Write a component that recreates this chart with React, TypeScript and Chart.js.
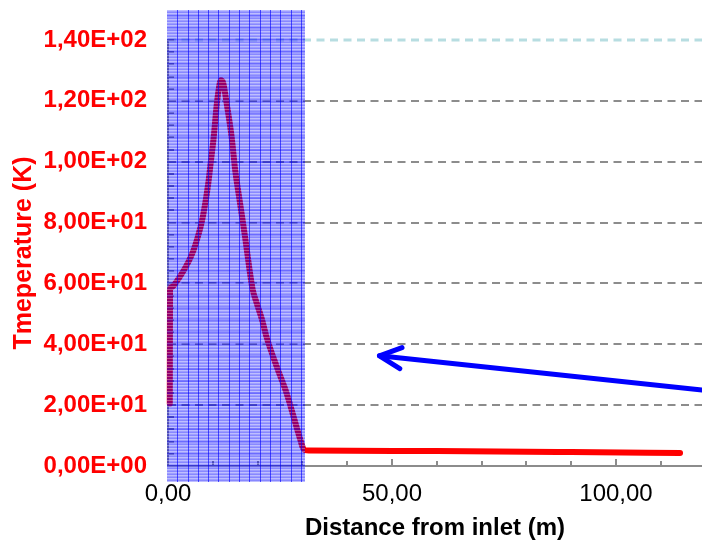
import React, { useEffect, useRef } from "react";
import { Chart, registerables } from "chart.js";

Chart.register(...registerables);

// Temperature profile (distance in m, temperature in K)
const distance = [
  0.4, 0.45, 0.8, 2.0, 3.4, 4.6, 5.7, 6.6, 7.5, 8.3, 9.0, 9.6, 10.2, 10.9, 11.4, 11.8,
  12.3, 13.1, 14.2, 15.0, 16.1, 17.2, 18.2, 18.9, 19.8, 21.0, 22.0, 24.3, 26.5, 28.7,
  29.6, 30.1, 30.6, 31.5, 60, 90, 114.3,
];
const temperature = [
  20.5, 58.0, 58.8, 60.8, 64.0, 67.2, 70.9, 75.0, 80.0, 86.2, 93.0, 100.5, 108.0, 119.0, 124.5, 126.8,
  126.0, 119.1, 108.2, 97.2, 86.2, 75.3, 64.5, 58.0, 53.5, 48.0, 42.4, 32.5, 23.8, 12.8,
  8.3, 6.0, 5.2, 5.1, 4.9, 4.6, 4.3,
];

// Arrow (tip first, then tail)
const arrowX = [47.2, 119.2];
const arrowY = [36.2, 25.0];

// Shaded band (x range and y range in data units)
const bandX = [-0.3, 30.6];
const bandY = [-5.1, 150];

// Axes
const xMin = 0;
const xMax = 119.2;
const xLabelStep = 50;
const xMinorStep = 10;
const yMin = 0;
const yMax = 140;
const yStep = 20;
const yMinorStep = 4;

const FONT = "'Liberation Sans', Arial, Helvetica, sans-serif";

function fmtY(v: number): string {
  if (v === 0) return "0,00E+00";
  const e = Math.floor(Math.log10(Math.abs(v)) + 1e-9);
  const m = v / Math.pow(10, e);
  return m.toFixed(2).replace(".", ",") + "E" + (e >= 0 ? "+" : "-") + String(Math.abs(e)).padStart(2, "0");
}
function fmtX(v: number): string {
  return v.toFixed(2).replace(".", ",");
}

const decorPlugin = {
  id: "decor",
  beforeDatasetsDraw(chart: any) {
    const { ctx, chartArea, scales } = chart;
    const x = scales.x;
    const y = scales.y;
    ctx.save();
    for (let v = yMin + yStep; v <= yMax + 1e-9; v += yStep) {
      const py = Math.round(y.getPixelForValue(v));
      ctx.beginPath();
      ctx.setLineDash([8, 5.5]);
      if (v === yMax) {
        ctx.strokeStyle = "rgba(170,215,220,0.85)";
        ctx.lineWidth = 3;
      } else {
        ctx.strokeStyle = "#8c8c8c";
        ctx.lineWidth = 2;
      }
      ctx.moveTo(chartArea.left, py);
      ctx.lineTo(chartArea.right, py);
      ctx.stroke();
    }
    ctx.setLineDash([]);
    ctx.strokeStyle = "#8c8c8c";
    ctx.lineWidth = 2;
    for (let v = xMin; v <= xMax + 1e-9; v += xMinorStep) {
      const px = Math.round(x.getPixelForValue(v));
      const len = v % xLabelStep === 0 ? 7 : 5;
      ctx.beginPath();
      ctx.moveTo(px, chartArea.bottom);
      ctx.lineTo(px, chartArea.bottom - len);
      ctx.stroke();
    }
    for (let v = yMin; v <= yMax + 1e-9; v += yMinorStep) {
      const py = Math.round(y.getPixelForValue(v));
      ctx.beginPath();
      ctx.moveTo(chartArea.left, py);
      ctx.lineTo(chartArea.left + 6, py);
      ctx.stroke();
    }
    ctx.restore();
  },
  afterDatasetsDraw(chart: any) {
    const { ctx, scales } = chart;
    const x = scales.x;
    const y = scales.y;
    ctx.save();
    const x0 = Math.round(x.getPixelForValue(bandX[0]));
    const x1 = Math.round(x.getPixelForValue(bandX[1]));
    const y0 = Math.round(y.getPixelForValue(bandY[1]));
    const y1 = Math.round(y.getPixelForValue(bandY[0]));
    const w = x1 - x0;
    const h = y1 - y0;
    ctx.fillStyle = "rgba(0,0,255,0.38)";
    ctx.fillRect(x0, y0, w, h);
    for (let py = y0; py < y1; py++) {
      const r = (py - y0) % 3;
      if (r === 0) {
        ctx.fillStyle = "rgba(255,255,255,0.32)";
        ctx.fillRect(x0, py, w, 1);
      } else if (r === 2) {
        ctx.fillStyle = "rgba(0,0,255,0.14)";
        ctx.fillRect(x0, py, w, 1);
      }
    }
    const rowStep = Math.abs(y.getPixelForValue(yMinorStep) - y.getPixelForValue(0));
    ctx.fillStyle = "rgba(0,0,255,0.22)";
    for (let py = y.getPixelForValue(0); py > y0; py -= rowStep) {
      ctx.fillRect(x0, Math.round(py) - 1, w, 2);
    }
    ctx.fillStyle = "rgba(0,0,255,0.62)";
    const colStep = w / 13.4;
    for (let px = x0 + colStep; px < x1 - 1; px += colStep) {
      ctx.fillRect(Math.round(px), y0, 1, h);
    }
    const meta = chart.getDatasetMeta(1);
    const pts = meta.data;
    if (pts && pts.length >= 2) {
      const tip = pts[0];
      const tail = pts[1];
      const ang = Math.atan2(tail.y - tip.y, tail.x - tip.x);
      const L = 24;
      const spread = (26 * Math.PI) / 180;
      ctx.strokeStyle = "#0000ff";
      ctx.lineWidth = 5;
      ctx.lineCap = "round";
      ctx.lineJoin = "round";
      ctx.beginPath();
      ctx.moveTo(tip.x + L * Math.cos(ang - spread), tip.y + L * Math.sin(ang - spread));
      ctx.lineTo(tip.x, tip.y);
      ctx.lineTo(tip.x + L * Math.cos(ang + spread), tip.y + L * Math.sin(ang + spread));
      ctx.stroke();
    }
    ctx.restore();
  },
};

export default function App() {
  const ref = useRef<HTMLCanvasElement | null>(null);
  useEffect(() => {
    if (!ref.current) return;
    const curve = distance.map((d, i) => ({ x: d, y: temperature[i] }));
    const arrow = arrowX.map((d, i) => ({ x: d, y: arrowY[i] }));
    const chart = new Chart(ref.current, {
      type: "scatter",
      data: {
        datasets: [
          {
            data: curve,
            showLine: true,
            borderColor: "#ff0000",
            backgroundColor: "#ff0000",
            borderWidth: 6,
            pointRadius: 0,
            cubicInterpolationMode: "monotone",
            borderJoinStyle: "round",
            borderCapStyle: "round",
            clip: false,
          } as any,
          {
            data: arrow,
            showLine: true,
            borderColor: "#0000ff",
            backgroundColor: "#0000ff",
            borderWidth: 5,
            pointRadius: 0,
            borderCapStyle: "round",
            clip: false,
          } as any,
        ],
      },
      plugins: [decorPlugin],
      options: {
        animation: false,
        responsive: false,
        devicePixelRatio: 1,
        layout: { padding: { top: 40, right: 0, left: 0, bottom: 0 } },
        plugins: { legend: { display: false }, tooltip: { enabled: false } },
        scales: {
          x: {
            type: "linear",
            min: xMin,
            max: xMax,
            grid: { display: false, drawTicks: false },
            border: { display: true, color: "#8c8c8c", width: 2 },
            ticks: {
              stepSize: xLabelStep,
              includeBounds: false,
              padding: 14,
              maxRotation: 0,
              color: "#000000",
              font: { family: FONT, size: 24 },
              callback: (v: any) => fmtX(Number(v)),
            },
            title: {
              display: true,
              text: "Distance from inlet (m)",
              color: "#000000",
              font: { family: FONT, size: 24, weight: "bold" },
              padding: { top: 0, bottom: 1 },
            },
            afterFit: (s: any) => {
              s.height = 78;
            },
          },
          y: {
            type: "linear",
            min: yMin,
            max: yMax,
            grid: { display: false, drawTicks: false },
            border: { display: true, color: "#8c8c8c", width: 2 },
            ticks: {
              stepSize: yStep,
              padding: 21,
              color: "#ff0000",
              font: { family: FONT, size: 24, weight: "bold" },
              callback: (v: any) => fmtY(Number(v)),
            },
            title: {
              display: true,
              text: "Tmeperature (K)",
              color: "#ff0000",
              font: { family: FONT, size: 25, weight: "bold" },
              padding: { top: 9, bottom: 0 },
            },
            afterFit: (s: any) => {
              s.width = 168;
            },
          },
        },
      } as any,
    });
    return () => chart.destroy();
  }, []);
  return (
    <div style={{ position: "fixed", left: 0, top: 0, width: 702, height: 544, background: "#fff" }}>
      <canvas ref={ref} width={702} height={544} style={{ display: "block", width: 702, height: 544 }} />
    </div>
  );
}
